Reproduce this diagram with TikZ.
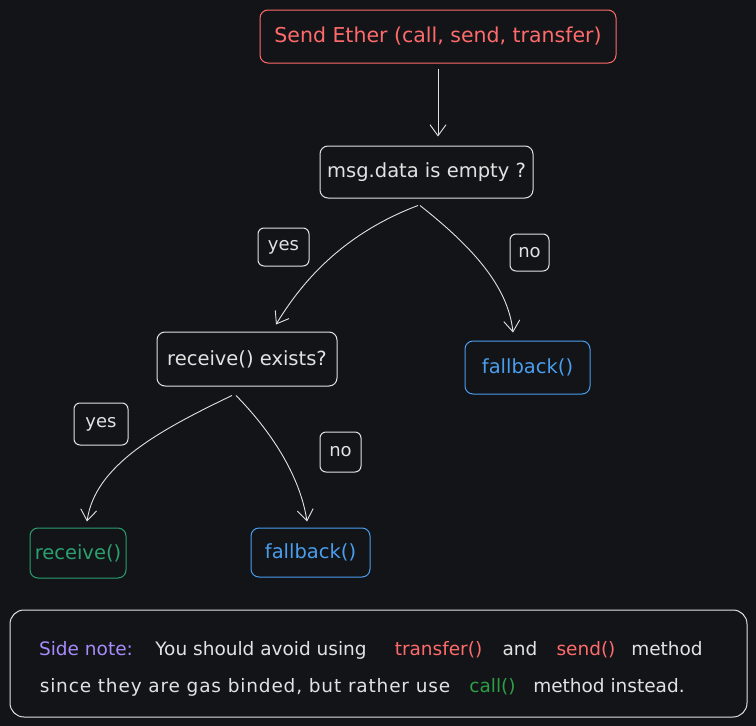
\documentclass[tikz,border=0pt]{standalone}
\usepackage{fontspec}
\setmainfont{DejaVu Sans}
\usetikzlibrary{arrows.meta}
\definecolor{bg}{RGB}{18,20,24}
\definecolor{wht}{RGB}{226,226,226}
\definecolor{exred}{RGB}{255,107,107}
\definecolor{exblue}{RGB}{74,158,237}
\definecolor{exgreen}{RGB}{43,160,110}
\definecolor{excall}{RGB}{47,158,68}
\definecolor{expurple}{RGB}{167,139,250}
\tikzset{
  box/.style={draw=wht, rounded corners=8pt, line width=1pt, text=wht,
    font=\fontsize{19.5}{22}\selectfont, inner sep=0pt, align=center},
  lbl/.style={box, rounded corners=6pt, font=\fontsize{18}{20}\selectfont},
  conn/.style={draw=wht, line width=0.9pt, -{Straight Barb[length=11pt,width=16pt,line width=0.9pt]}},
  notetxt/.style={anchor=base, inner sep=0pt, text=wht, font=\fontsize{18.5}{21}\selectfont}
}
\begin{document}
\begin{tikzpicture}[x=1pt,y=-1pt]
\fill[bg] (0,0) rectangle (756,726);
\useasboundingbox (0,0) rectangle (756,726);

\node[box, draw=exred, text=exred, minimum width=356pt, minimum height=53pt,
  font=\fontsize{20.5}{23}\selectfont] (top) at (438,36.5) {Send Ether (call, send, transfer)};
\node[box, minimum width=213pt, minimum height=52pt] (q1) at (426.5,172) {msg.data is empty ?};
\node[lbl, minimum width=51pt, minimum height=38pt] (yes1) at (283.5,247) {yes};
\node[lbl, minimum width=39pt, minimum height=37pt] (no1) at (529.5,252.5) {no};
\node[box, minimum width=180pt, minimum height=54pt] (q2) at (247,359) {receive() exists?};
\node[box, draw=exblue, text=exblue, minimum width=125pt, minimum height=53pt] (fb1) at (527.5,367.5) {fallback()};
\node[lbl, minimum width=54pt, minimum height=42pt] (yes2) at (101,424) {yes};
\node[lbl, minimum width=41pt, minimum height=40pt] (no2) at (340.5,452) {no};
\node[box, draw=exgreen, text=exgreen, minimum width=96pt, minimum height=50pt] (rcv) at (78,553) {receive()};
\node[box, draw=exblue, text=exblue, minimum width=119pt, minimum height=49pt] (fb2) at (310.5,552.5) {fallback()};
\node[box, rounded corners=14pt, minimum width=737pt, minimum height=107pt] (note) at (378.5,663.5) {};

% note text
\node[notetxt, text=expurple] (sn) at (86,655) {Side note:};
\node[notetxt] (t1) at (261,655) {You should avoid using};
\node[notetxt, text=exred] (t2) at (438.5,655) {transfer()};
\node[notetxt] (t3) at (520,655) {and};
\node[notetxt, text=exred] (t4) at (586,655) {send()};
\node[notetxt] (t5) at (667,655) {method};
\node[notetxt, font=\fontsize{18.5}{21}\selectfont\addfontfeature{LetterSpace=4.5}] (t6) at (245,692) {since they are gas binded, but rather use};
\node[notetxt, text=excall] (t7) at (492.5,692) {call()};
\node[notetxt] (t8) at (609,692) {method instead.};

% connectors
\draw[conn, shorten <=5pt, shorten >=9pt] (top.south) -- ([xshift=11.5pt]q1.north);
\draw[conn] ([xshift=-8.5pt,yshift=-7pt]q1.south) .. controls (340,235) and (300,285) .. ([xshift=29pt,yshift=7pt]q2.north);
\draw[conn] ([xshift=-6.5pt,yshift=-7pt]q1.south) .. controls (470,245) and (508,285) .. ([xshift=-14.5pt,yshift=8pt]fb1.north);
\draw[conn] ([xshift=-15pt,yshift=-9pt]q2.south) .. controls (160,430) and (95,465) .. ([xshift=9pt,yshift=6pt]rcv.north);
\draw[conn] ([xshift=-11pt,yshift=-9pt]q2.south) .. controls (270,430) and (300,475) .. ([xshift=-3.5pt,yshift=6pt]fb2.north);
\end{tikzpicture}
\end{document}
